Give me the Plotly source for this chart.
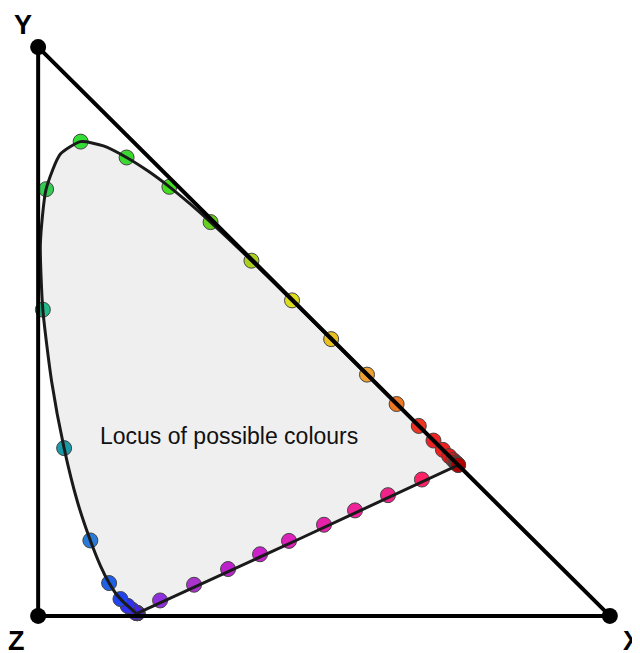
import plotly.graph_objects as go

# CIE 1931 spectral locus, 5 nm steps (380..700 nm)
wavelengths = list(range(380, 705, 5))
locus_x = [0.1741, 0.1740, 0.1738, 0.1736, 0.1733, 0.1730, 0.1726, 0.1721, 0.1714, 0.1703,
           0.1689, 0.1669, 0.1644, 0.1611, 0.1566, 0.1510, 0.1440, 0.1355, 0.1241, 0.1096,
           0.0913, 0.0687, 0.0454, 0.0235, 0.0082, 0.0039, 0.0139, 0.0389, 0.0743, 0.1142,
           0.1547, 0.1929, 0.2296, 0.2658, 0.3016, 0.3373, 0.3731, 0.4087, 0.4441, 0.4788,
           0.5125, 0.5448, 0.5752, 0.6029, 0.6270, 0.6482, 0.6658, 0.6801, 0.6915, 0.7006,
           0.7079, 0.7140, 0.7190, 0.7230, 0.7260, 0.7283, 0.7300, 0.7311, 0.7320, 0.7327,
           0.7334, 0.7340, 0.7344, 0.7346, 0.7347]
locus_y = [0.0050, 0.0050, 0.0049, 0.0049, 0.0048, 0.0048, 0.0048, 0.0048, 0.0051, 0.0058,
           0.0069, 0.0086, 0.0109, 0.0138, 0.0177, 0.0227, 0.0297, 0.0399, 0.0578, 0.0868,
           0.1327, 0.2007, 0.2950, 0.4127, 0.5384, 0.6548, 0.7502, 0.8120, 0.8338, 0.8262,
           0.8059, 0.7816, 0.7543, 0.7243, 0.6923, 0.6589, 0.6245, 0.5896, 0.5547, 0.5202,
           0.4866, 0.4544, 0.4242, 0.3965, 0.3725, 0.3514, 0.3340, 0.3197, 0.3083, 0.2993,
           0.2920, 0.2859, 0.2809, 0.2770, 0.2740, 0.2717, 0.2700, 0.2689, 0.2680, 0.2673,
           0.2666, 0.2660, 0.2656, 0.2654, 0.2653]

# Dot colours every 10 nm (380..700)
spectral_colors = ["#7020d8", "#7424e0", "#7028e8", "#6a28ec", "#6226f0", "#5424f0", "#4422f0",
                   "#3030f0", "#2244f0", "#2060e8", "#2a7ad8", "#1a9aa8", "#22b888", "#33cc55",
                   "#33dd33", "#3ad830", "#44dd22", "#66d022", "#aad020", "#dddd20", "#e8c020",
                   "#eea030", "#ee7722", "#ee3322", "#ee2222", "#ee2020", "#e81818", "#e01515",
                   "#d81010", "#d01010", "#c80808", "#c00505", "#b00000"]

# Line of purples (violet end -> red end)
purple_x = [0.2133, 0.2727, 0.3322, 0.3881, 0.4388, 0.5000, 0.5542, 0.6119, 0.6713]
purple_y = [0.0272, 0.0548, 0.0824, 0.1084, 0.1319, 0.1603, 0.1855, 0.2123, 0.2398]
purple_colors = ["#9030dd", "#aa33cc", "#bb22cc", "#cc22cc", "#dd22bb", "#e622aa",
                 "#ee2299", "#ee2288", "#ff2266"]

# Triangle vertices (Z, X, Y)
vert_x = [0, 1, 0]
vert_y = [0, 0, 1]
vert_labels = ["Z", "X", "Y"]

dot_x = locus_x[::2]
dot_y = locus_y[::2]

fig = go.Figure()

fig.add_trace(go.Scatter(x=locus_x + [locus_x[0]], y=locus_y + [locus_y[0]], mode="lines",
                         fill="toself", fillcolor="#efefef", line=dict(width=0, color="rgba(0,0,0,0)"),
                         hoverinfo="skip", cliponaxis=False))
fig.add_trace(go.Scatter(x=dot_x, y=dot_y, mode="markers",
                         marker=dict(size=15, color=spectral_colors, line=dict(width=1, color="#444")),
                         cliponaxis=False))
fig.add_trace(go.Scatter(x=purple_x, y=purple_y, mode="markers",
                         marker=dict(size=15, color=purple_colors, line=dict(width=1, color="#444")),
                         cliponaxis=False))
fig.add_trace(go.Scatter(x=locus_x + [locus_x[0]], y=locus_y + [locus_y[0]], mode="lines",
                         line=dict(width=3, color="#1a1a1a", shape="spline", smoothing=0.6),
                         cliponaxis=False))
fig.add_trace(go.Scatter(x=vert_x + [vert_x[0]], y=vert_y + [vert_y[0]], mode="lines",
                         line=dict(width=4, color="black"), cliponaxis=False))
fig.add_trace(go.Scatter(x=vert_x, y=vert_y, mode="markers",
                         marker=dict(size=16, color="black"), cliponaxis=False))

# x/y ranges padded so thick edge lines are not clipped
xr = [-0.03, 1.03]
yr = [-0.03, 1.03]

label_pos = {"Z": (-0.0385, -0.044), "X": (1.0385, -0.044), "Y": (-0.027, 1.039)}


def to_paper(v, r):
    return (v - r[0]) / (r[1] - r[0])


for lab in vert_labels:
    lx, ly = label_pos[lab]
    fig.add_annotation(x=to_paper(lx, xr), y=to_paper(ly, yr), xref="paper", yref="paper",
                       xanchor="center", yanchor="middle",
                       text="<b>%s</b>" % lab, showarrow=False,
                       font=dict(family="Liberation Sans, Arial", size=27, color="black"))

fig.add_annotation(x=0.334, y=0.316, text="Locus of possible colours", showarrow=False,
                   font=dict(family="Liberation Sans, Arial", size=23, color="#111"))

fig.update_layout(width=640, height=653, showlegend=False,
                  margin=dict(l=12.84, r=20.84, t=21.93, b=27.93, pad=0, autoexpand=False),
                  plot_bgcolor="white", paper_bgcolor="white",
                  xaxis=dict(range=xr, visible=False, fixedrange=True),
                  yaxis=dict(range=yr, visible=False, fixedrange=True))

fig.write_html("out.html")
